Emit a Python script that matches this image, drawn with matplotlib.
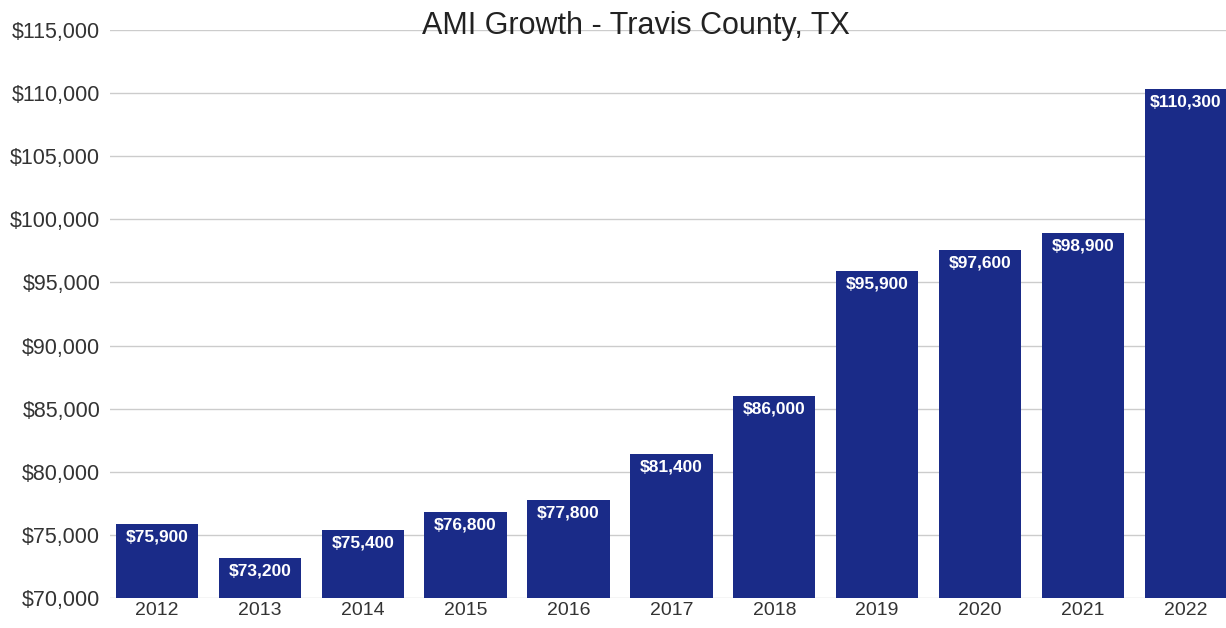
import matplotlib.pyplot as plt
from matplotlib.ticker import FuncFormatter

years = ['2012', '2013', '2014', '2015', '2016', '2017', '2018', '2019', '2020', '2021', '2022']
ami = [75900, 73200, 75400, 76800, 77800, 81400, 86000, 95900, 97600, 98900, 110300]
y_ticks = list(range(70000, 115001, 5000))

plt.rcParams['font.family'] = ['Liberation Sans', 'DejaVu Sans']

fig = plt.figure(figsize=(12.26, 6.28), dpi=100)
ax = fig.add_axes([110 / 1226, 30 / 628, 1116 / 1226, 568 / 628])

x = list(range(len(years)))
ax.bar(x, ami, width=0.8, color='#1a2b88', zorder=3)

# value labels inside the top of each bar
for xi, v in zip(x, ami):
    ax.annotate(f'${v:,.0f}', (xi, v), xytext=(0, -4), textcoords='offset points',
                ha='center', va='top', color='white', fontsize=12.5,
                fontweight='bold', zorder=4)

ax.set_ylim(70000, 115000)
ax.set_xlim(-0.456, 10.39)
ax.set_yticks(y_ticks)
ax.yaxis.set_major_formatter(FuncFormatter(lambda v, p: f'${v:,.0f}'))
ax.set_xticks(x)
ax.set_xticklabels(years)
ax.grid(axis='y', color='#cccccc', linewidth=1, zorder=0)
ax.tick_params(length=0, colors='#333333')
ax.tick_params(axis='x', labelsize=14, pad=3)
ax.tick_params(axis='y', labelsize=15.5, pad=7)
for s in ax.spines.values():
    s.set_visible(False)

fig.text(0.519, 1 - 34 / 628, 'AMI Growth - Travis County, TX', ha='center',
         va='baseline', fontsize=22, color='#222222')

fig.savefig('out.png', dpi=100)
